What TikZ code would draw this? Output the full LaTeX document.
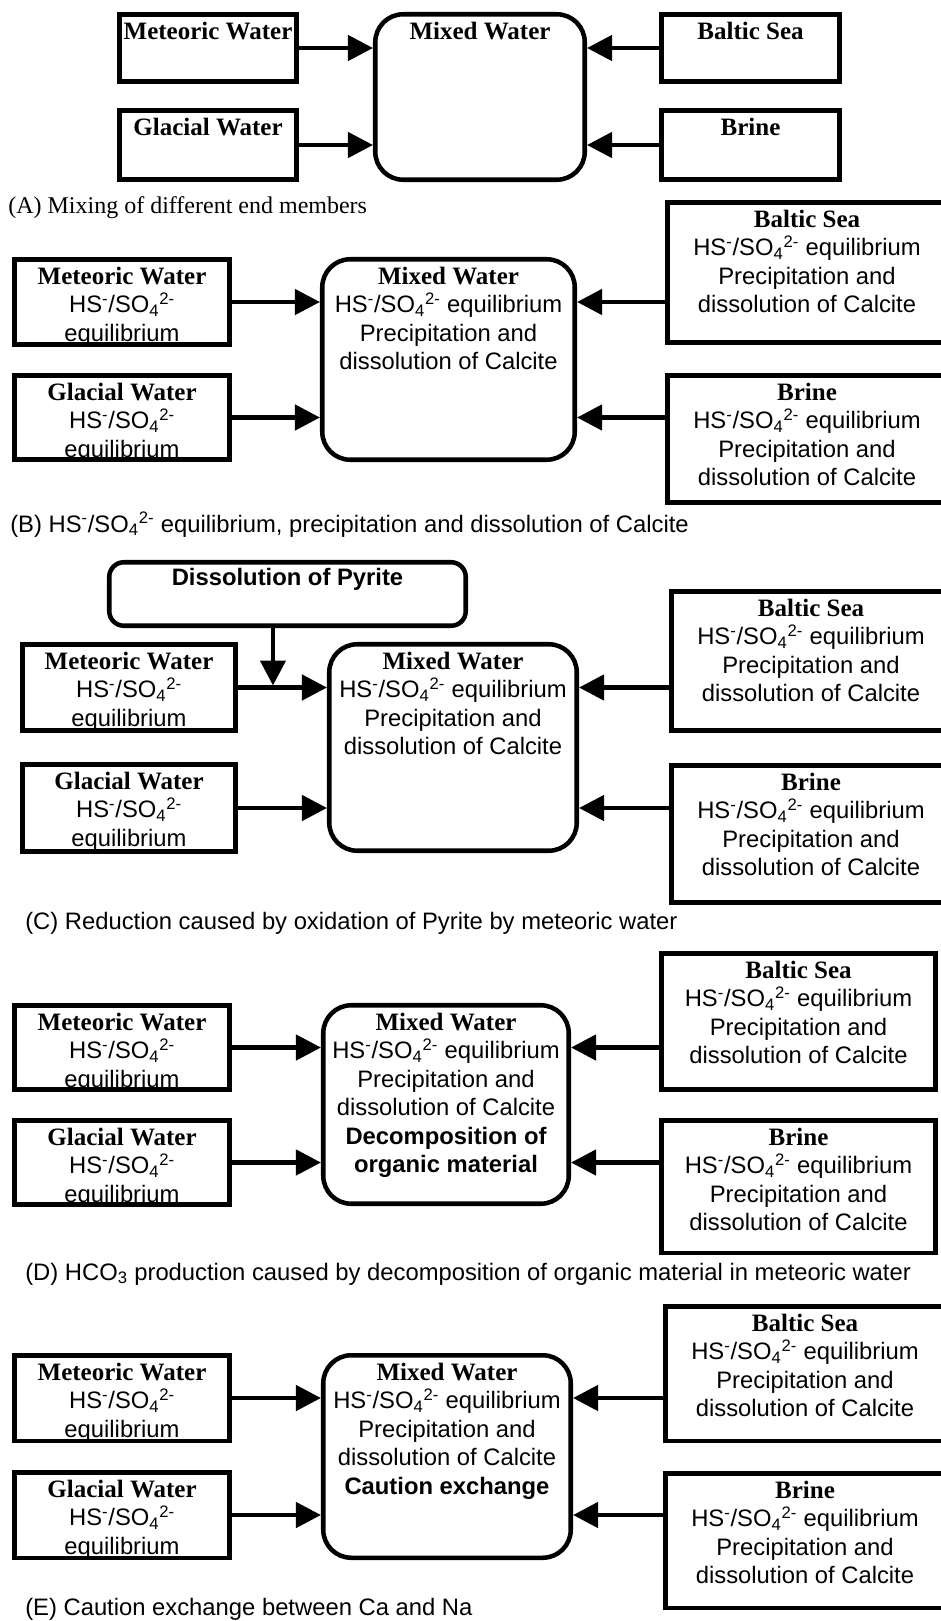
\documentclass[tikz,border=0pt]{standalone}
\usepackage{fontspec}
\setmainfont{Liberation Sans}
\newfontfamily\serifff{Liberation Serif}
\usetikzlibrary{arrows.meta}
\newcommand\SansTxt{\fontsize{17.85pt}{21.4pt}\selectfont}
\newcommand\CapSerif{\serifff\fontsize{18pt}{21.6pt}\selectfont}
\newcommand\ttl[1]{{\serifff\bfseries\fontsize{18.75pt}{21.4pt}\selectfont #1}}
\newcommand\HSSO{HS\textsuperscript{-}/SO\textsubscript{4}\textsuperscript{2-}}
% #1 style, #2 name, #3 x1, #4 y1, #5 x2, #6 y2 (outer edges, px), #7 text
\newcommand\mkbox[7]{%
  \node[#1, minimum width={(#5-#3-4.5)*0.75pt}, minimum height={(#6-#4-4.5)*0.75pt}] (#2) at ({(#3+#5)/2},{(#4+#6)/2}) {};
  \node[txt, anchor=north] (#2-t) at ({(#3+#5)/2},{#4+7}) {\rule{0pt}{15pt}#7};
}
\tikzset{
  sqbox/.style={draw, line width=3.4pt, rectangle, inner sep=0pt},
  rbox/.style={sqbox, rounded corners=21pt},
  pbox/.style={sqbox, rounded corners=11pt},
  txt/.style={inner sep=0pt, align=center, font=\SansTxt},
  arr/.style={line width=3.4pt, -{Triangle[length=18.75pt, width=18.75pt]}},
  captxt/.style={inner sep=0pt, anchor=base west, font=\SansTxt},
}
\begin{document}
\begin{tikzpicture}[x=0.75pt, y=-0.75pt]
\useasboundingbox (0,0) rectangle (941,1621);
\clip (0,0) rectangle (941,1621);

% ---------------- (A)
\mkbox{sqbox}{metA}{117}{12}{299}{84}{\ttl{Meteoric Water}}
\mkbox{sqbox}{glaA}{117}{108}{299}{182}{\ttl{Glacial Water}}
\mkbox{rbox}{mixA}{373}{12}{587}{182}{\ttl{Mixed Water}}
\mkbox{sqbox}{balA}{659}{12}{842}{84}{\ttl{Baltic Sea}}
\mkbox{sqbox}{briA}{659}{108}{842}{182}{\ttl{Brine}}
\draw[arr] (metA.east) -- (metA.east -| mixA.west);
\draw[arr] (glaA.east) -- (glaA.east -| mixA.west);
\draw[arr] (balA.west |- metA.east) -- (metA.east -| mixA.east);
\draw[arr] (briA.west |- glaA.east) -- (glaA.east -| mixA.east);
\node[captxt, font=\CapSerif] (capA) at (8,213) {(A) Mixing of different end members};

% ---------------- (B)
\mkbox{sqbox}{metB}{12}{257}{232}{347}{\ttl{Meteoric Water}\\\HSSO\\equilibrium}
\mkbox{sqbox}{glaB}{12}{373}{232}{462}{\ttl{Glacial Water}\\\HSSO\\equilibrium}
\mkbox{rbox}{mixB}{320}{257}{577}{462}{\ttl{Mixed Water}\\\HSSO{} equilibrium\\Precipitation and\\dissolution of Calcite}
\mkbox{sqbox}{balB}{665}{200}{949}{345}{\ttl{Baltic Sea}\\\HSSO{} equilibrium\\Precipitation and\\dissolution of Calcite}
\mkbox{sqbox}{briB}{665}{373}{949}{505}{\ttl{Brine}\\\HSSO{} equilibrium\\Precipitation and\\dissolution of Calcite}
\draw[arr] (metB.east) -- (metB.east -| mixB.west);
\draw[arr] (glaB.east) -- (glaB.east -| mixB.west);
\draw[arr] (balB.west |- metB.east) -- (metB.east -| mixB.east);
\draw[arr] (briB.west |- glaB.east) -- (glaB.east -| mixB.east);
\node[captxt] (capB) at (10,532) {(B) \HSSO{} equilibrium, precipitation and dissolution of Calcite};

% ---------------- (C)
\node[pbox, minimum width={(468-107-4.5)*0.75pt}, minimum height={(628-560-4.5)*0.75pt}] (pyr) at ({(107+468)/2},{(560+628)/2}) {};
\node[txt, anchor=north] (pyr-t) at ({(107+468)/2},{560+5}) {\rule{0pt}{15pt}\bfseries Dissolution of Pyrite};
\mkbox{sqbox}{metC}{20}{642}{238}{733}{\ttl{Meteoric Water}\\\HSSO\\equilibrium}
\mkbox{sqbox}{glaC}{20}{762}{238}{854}{\ttl{Glacial Water}\\\HSSO\\equilibrium}
\mkbox{rbox}{mixC}{327}{642}{579}{853}{\ttl{Mixed Water}\\\HSSO{} equilibrium\\Precipitation and\\dissolution of Calcite}
\mkbox{sqbox}{balC}{669}{589}{953}{733}{\ttl{Baltic Sea}\\\HSSO{} equilibrium\\Precipitation and\\dissolution of Calcite}
\mkbox{sqbox}{briC}{669}{763}{953}{905}{\ttl{Brine}\\\HSSO{} equilibrium\\Precipitation and\\dissolution of Calcite}
\draw[arr] (metC.east) -- (metC.east -| mixC.west);
\draw[arr] (glaC.east) -- (glaC.east -| mixC.west);
\draw[arr] (balC.west |- metC.east) -- (metC.east -| mixC.east);
\draw[arr] (briC.west |- glaC.east) -- (glaC.east -| mixC.east);
\draw[arr] ([xshift=-10.9pt]pyr.south) -- ([xshift=-10.9pt,yshift=1.5pt]pyr.south |- metC.east);
\node[captxt] (capC) at (25,929) {(C) Reduction caused by oxidation of Pyrite by meteoric water};

% ---------------- (D)
\mkbox{sqbox}{metD}{12}{1003}{232}{1092}{\ttl{Meteoric Water}\\\HSSO\\equilibrium}
\mkbox{sqbox}{glaD}{12}{1118}{232}{1207}{\ttl{Glacial Water}\\\HSSO\\equilibrium}
\mkbox{rbox}{mixD}{321}{1003}{571}{1206}{\ttl{Mixed Water}\\\HSSO{} equilibrium\\Precipitation and\\dissolution of Calcite\\{\bfseries Decomposition of}\\{\bfseries organic material}}
\mkbox{sqbox}{balD}{659}{951}{938}{1092}{\ttl{Baltic Sea}\\\HSSO{} equilibrium\\Precipitation and\\dissolution of Calcite}
\mkbox{sqbox}{briD}{659}{1118}{938}{1255}{\ttl{Brine}\\\HSSO{} equilibrium\\Precipitation and\\dissolution of Calcite}
\draw[arr] (metD.east) -- (metD.east -| mixD.west);
\draw[arr] (glaD.east) -- (glaD.east -| mixD.west);
\draw[arr] (balD.west |- metD.east) -- (metD.east -| mixD.east);
\draw[arr] (briD.west |- glaD.east) -- (glaD.east -| mixD.east);
\node[captxt] (capD) at (25,1280) {(D) HCO\textsubscript{3} production caused by decomposition of organic material in meteoric water};

% ---------------- (E)
\mkbox{sqbox}{metE}{12}{1353}{232}{1443}{\ttl{Meteoric Water}\\\HSSO\\equilibrium}
\mkbox{sqbox}{glaE}{12}{1470}{232}{1560}{\ttl{Glacial Water}\\\HSSO\\equilibrium}
\mkbox{rbox}{mixE}{321}{1353}{573}{1560}{\ttl{Mixed Water}\\\HSSO{} equilibrium\\Precipitation and\\dissolution of Calcite\\{\bfseries Caution exchange}}
\mkbox{sqbox}{balE}{663}{1304}{947}{1443}{\ttl{Baltic Sea}\\\HSSO{} equilibrium\\Precipitation and\\dissolution of Calcite}
\mkbox{sqbox}{briE}{663}{1471}{947}{1610}{\ttl{Brine}\\\HSSO{} equilibrium\\Precipitation and\\dissolution of Calcite}
\draw[arr] (metE.east) -- (metE.east -| mixE.west);
\draw[arr] (glaE.east) -- (glaE.east -| mixE.west);
\draw[arr] (balE.west |- metE.east) -- (metE.east -| mixE.east);
\draw[arr] (briE.west |- glaE.east) -- (glaE.east -| mixE.east);
\node[captxt] (capE) at (25,1615) {(E) Caution exchange between Ca and Na};
\end{tikzpicture}
\end{document}
